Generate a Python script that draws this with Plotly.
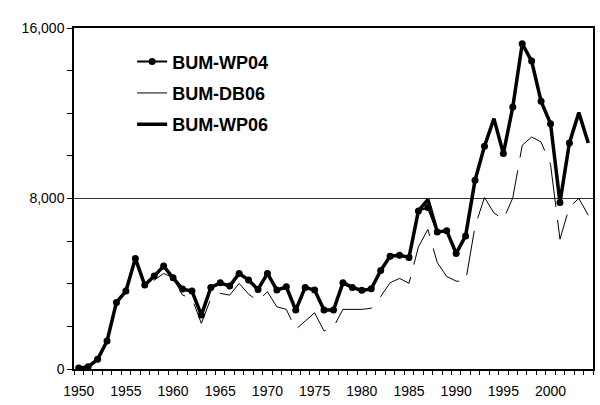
import plotly.graph_objects as go

years = list(range(1950, 2005))

bum_wp04 = [50, 100, 455, 1312, 3125, 3655, 5187, 3936, 4358, 4827,
            4280, 3749, 3655, 2530, 3828, 4044, 3889, 4485, 4171, 3735,
            4485, 3702, 3857, 2765, 3828, 3702, 2765, 2765, 4044, 3828,
            3690, 3760, 4620, 5295, 5342, 5234, 7418, 7577, 6434, 6481,
            5422, 6246, 8857, 10450, None, 10108, 12292, 15262, 14447, 12559,
            11513, 7811, 10605, None, None]

bum_db06 = [50, 100, 455, 1312, 3125, 3655, 5187, 3780, 4170, 4484,
            4280, 3468, 3313, 2141, 3313, 3547, 3468, 4016, 3510, 3200,
            3623, 2919, 2797, 1860, 2250, 2638, 1780, 1968, 2797, 2797,
            2797, 2850, 3400, 4050, 4250, 4020, 5731, 6550, 4990, 4340,
            4123, 4100, 6700, 8046, 7325, 7015, 8030, 10500, 10886, 10651,
            9600, 6090, 7606, 8000, 7216]

bum_wp06 = [50, 100, 455, 1312, 3125, 3655, 5187, 3936, 4358, 4827,
            4280, 3749, 3655, 2530, 3828, 4044, 3889, 4485, 4171, 3735,
            4485, 3702, 3857, 2765, 3828, 3702, 2765, 2765, 4044, 3828,
            3690, 3760, 4620, 5295, 5342, 5234, 7418, 7950, 6434, 6481,
            5422, 6246, 8857, 10450, 11748, 10108, 12292, 15262, 14447, 12559,
            11513, 7811, 10605, 12029, 10605]

x_label_years = [1950, 1955, 1960, 1965, 1970, 1975, 1980, 1985, 1990, 1995, 2000]
y_label_vals = [0, 8000, 16000]

FONT = "Liberation Sans, Arial, sans-serif"

fig = go.Figure()
fig.add_trace(go.Scatter(
    x=years, y=bum_wp04, name="BUM-WP04", mode="lines+markers",
    line=dict(color="black", width=2),
    marker=dict(color="black", size=7),
    legendgroup="a",
))
fig.add_trace(go.Scatter(
    x=years, y=bum_db06, name="BUM-DB06", mode="lines",
    line=dict(color="black", width=1, dash="45px,13px"),
    legendgroup="b",
))
fig.add_trace(go.Scatter(
    x=years, y=bum_wp06, name="BUM-WP06", mode="lines",
    line=dict(color="black", width=3.5),
    legendgroup="c",
))

fig.update_layout(
    width=600, height=405,
    margin=dict(l=74, r=7, t=28, b=36),
    paper_bgcolor="white", plot_bgcolor="white",
    font=dict(family=FONT, color="black", size=14),
    showlegend=True,
    legend=dict(
        x=0.112, y=0.955, xanchor="left", yanchor="top",
        bgcolor="rgba(0,0,0,0)", tracegroupgap=5,
        font=dict(family=FONT, size=18, color="black", weight="bold"),
    ),
)

fig.update_xaxes(
    range=[1949.5, 2004.5], automargin=False,
    tickmode="array", tickvals=x_label_years,
    ticktext=[str(v) for v in x_label_years],
    ticks="", showgrid=False, zeroline=False,
    showline=True, linecolor="black", linewidth=1.5, mirror=True,
    tickfont=dict(family=FONT, size=14, color="black"),
    ticklabelstandoff=8,
    minor=dict(tick0=1949.5, dtick=1, ticks="outside", ticklen=4,
               tickcolor="black", tickwidth=1, showgrid=False),
)

fig.update_yaxes(
    range=[0, 16000], automargin=False,
    tickmode="array", tickvals=y_label_vals,
    tickformat=",d",
    ticks="outside", ticklen=5, tickcolor="black", tickwidth=1,
    showgrid=True, gridcolor="#333333", gridwidth=1,
    zeroline=False,
    showline=True, linecolor="black", linewidth=1.5, mirror=True,
    tickfont=dict(family=FONT, size=14, color="black"),
    minor=dict(tick0=0, dtick=2000, ticks="outside", ticklen=5,
               tickcolor="black", tickwidth=1, showgrid=False),
)

fig.write_html("out.html")
